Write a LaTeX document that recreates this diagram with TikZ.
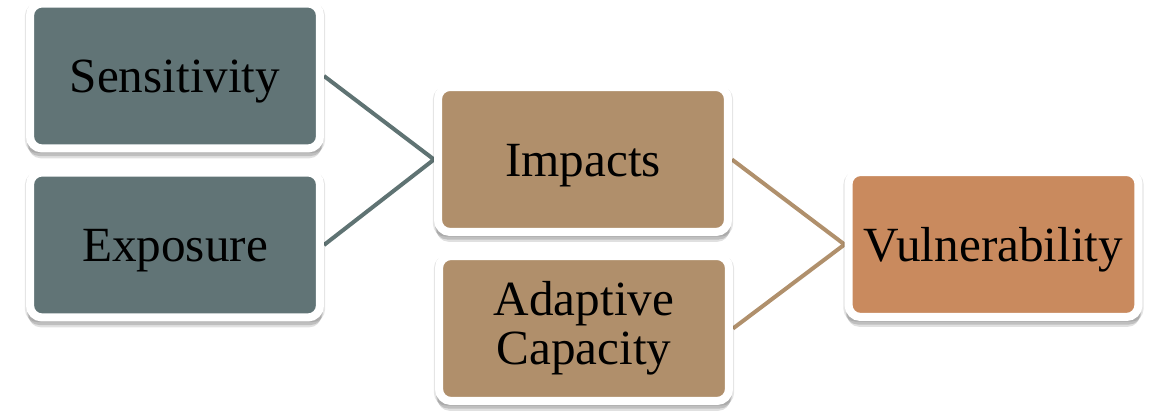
\documentclass[tikz,border=0pt]{standalone}
\usepackage{fontspec}
\setmainfont{Liberation Serif}
\usepackage{tikz}
\usetikzlibrary{shadows, backgrounds}
\definecolor{slate}{HTML}{617476}
\definecolor{tan}{HTML}{B08F6B}
\definecolor{copper}{HTML}{C98A5E}
\definecolor{slateline}{HTML}{5F7373}
\definecolor{tanline}{HTML}{B0906C}

\begin{document}
\begin{tikzpicture}[x=0.02cm, y=-0.02cm,
    box/.style={rectangle, rounded corners=0.24cm, draw=white, line width=0.16cm,
        minimum width=5.8cm, minimum height=2.9cm, align=center, text=black,
        font=\fontsize{28}{28}\selectfont,
        general shadow={shadow xshift=0cm, shadow yshift=-0.04cm, shadow scale=1.035, opacity=0.10, fill=black},
        general shadow={shadow xshift=0cm, shadow yshift=-0.12cm, shadow scale=1.02, opacity=0.15, fill=black},
        general shadow={shadow xshift=0cm, shadow yshift=-0.18cm, shadow scale=1.01, opacity=0.12, fill=black}},
    oneline/.style={text height=0.78cm, text depth=0.1cm},
    link/.style={line width=0.08cm, line join=miter}]
        \useasboundingbox (0,0) rectangle (1153,411);

        % Boxes
        \node[box, oneline, fill=slate] (sens) at (175,76) {Sensitivity};
        \node[box, oneline, fill=slate] (expo) at (175,245) {Exposure};
        \node[box, oneline, fill=tan] (impacts) at (583,159.5) {Impacts};
        \node[box, fill=tan] (adapt) at (584,328.5) {Adaptive\\Capacity};
        \node[box, oneline, fill=copper] (vuln) at (993.5,244.5) {Vulnerability};

        % Connections
        \begin{scope}[on background layer]
            \draw[link, slateline] (sens.east) -- (impacts.west) -- (expo.east);
            \draw[link, tanline] (impacts.east) -- (vuln.west) -- (adapt.east);
        \end{scope}
\end{tikzpicture}
\end{document}
